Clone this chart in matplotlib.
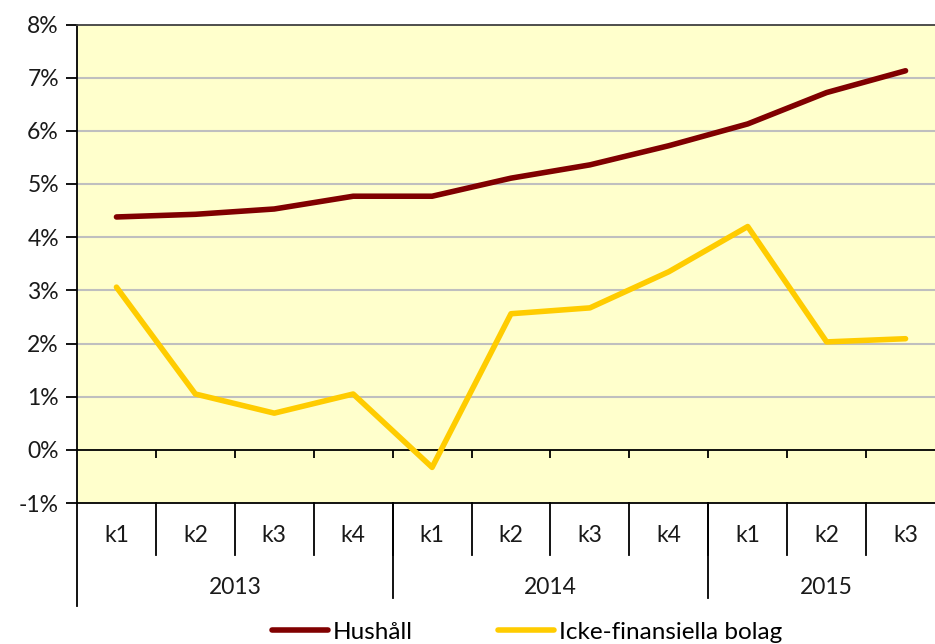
import matplotlib
matplotlib.use("Agg")
import matplotlib.pyplot as plt
from matplotlib.transforms import blended_transform_factory

plt.rcParams['font.family'] = ['Lato', 'DejaVu Sans']

years = ["2013", "2014", "2015"]
quarters = ["k1", "k2", "k3", "k4", "k1", "k2", "k3", "k4", "k1", "k2", "k3"]
quarters_per_year = [4, 4, 3]
hushall = [4.38, 4.43, 4.53, 4.77, 4.77, 5.11, 5.36, 5.72, 6.13, 6.72, 7.13]
icke_fin = [3.06, 1.05, 0.69, 1.05, -0.33, 2.56, 2.67, 3.35, 4.20, 2.03, 2.09]
yticks = [-1, 0, 1, 2, 3, 4, 5, 6, 7, 8]

FS = 16.5
W, H = 935, 644
fig = plt.figure(figsize=(W / 100, H / 100), dpi=100)
left, right, top, bottom = 77, 945, 24.5, 503
ax = fig.add_axes([left / W, (H - bottom) / H, (right - left) / W, (bottom - top) / H])
ax.set_facecolor("#FFFFCC")

n = len(quarters)
xs = [i + 0.5 for i in range(n)]
ax.set_xlim(0, n)
ax.set_ylim(-1, 8)

for v in range(1, 8):
    ax.axhline(v, color="#BFBFBF", lw=1.5, zorder=1)
ax.axhline(0, color="black", lw=1.3, zorder=2)
ax.vlines(range(1, n), -0.15, 0, color="black", lw=1.3, zorder=2)

l1, = ax.plot(xs, hushall, color="#800000", lw=4, solid_capstyle="round", zorder=3, label="Hushåll")
l2, = ax.plot(xs, icke_fin, color="#FFCC00", lw=4, solid_capstyle="round", zorder=3, label="Icke-finansiella bolag")

ax.set_yticks(yticks)
ax.set_yticklabels([f"{v}%" for v in yticks], fontsize=FS, color="#1a1a1a")
ax.tick_params(axis="y", length=8, width=1.3, direction="out", pad=5)
ax.set_xticks([])

for s in ["left", "bottom"]:
    ax.spines[s].set_color("black")
    ax.spines[s].set_linewidth(1.3)
ax.spines["top"].set_color("#404040")
ax.spines["top"].set_linewidth(1.3)
ax.spines["right"].set_visible(False)

ah = bottom - top
tr = blended_transform_factory(ax.transData, ax.transAxes)
for i in range(1, n):
    ax.plot([i, i], [0, -52 / ah], transform=tr, color="black", lw=1.3, clip_on=False)
for i, q in enumerate(quarters):
    ax.text(i + 0.5, -32 / ah, q, transform=tr, ha="center", va="center", fontsize=FS, color="#1a1a1a")
pos = 0
for k, (y, c) in enumerate(zip(years, quarters_per_year)):
    ax.text(pos + c / 2, -85 / ah, y, transform=tr, ha="center", va="center", fontsize=FS, color="#1a1a1a")
    pos += c
    if k < len(years) - 1:
        ax.plot([pos, pos], [0, -95 / ah], transform=tr, color="black", lw=1.3, clip_on=False)
ax.plot([0, 0], [0, -103 / ah], transform=tr, color="black", lw=1.3, clip_on=False)

fig.legend(handles=[l1, l2], loc="center", bbox_to_anchor=(527 / W, (H - 632) / H), ncol=2,
           frameon=False, fontsize=17.5, handlelength=2.3, handletextpad=0.2, columnspacing=3.5,
           borderpad=0, borderaxespad=0)

fig.savefig("out.png", dpi=100, facecolor="white")
